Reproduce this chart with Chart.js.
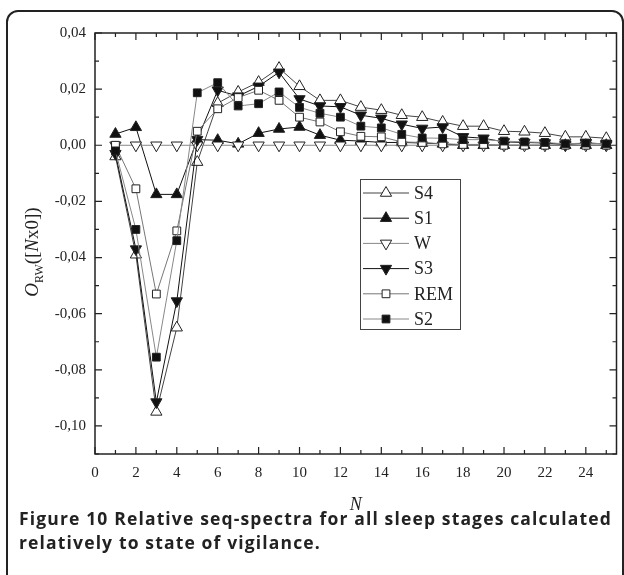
<!DOCTYPE html>
<html>
<head>
<meta charset="utf-8">
<script src="https://cdn.jsdelivr.net/npm/chart.js@4.4.1/dist/chart.umd.min.js"></script>
<style>
  html, body { margin: 0; padding: 0; background: #fff; }
  #wrap { position: relative; width: 624px; height: 575px; overflow: hidden; }
  #frame { position: absolute; left: 6px; top: 10px; width: 614px; height: 620px; border: 2px solid #222; border-radius: 12px; }
  #cv { position: absolute; left: 0; top: 0; }
  #caption { position: absolute; left: 19px; top: 506px; width: 600px; font-family: "Open Sans", sans-serif; font-weight: bold; font-size: 17.5px; line-height: 24px; color: #222; }
  #caption span { white-space: nowrap; }
</style>
</head>
<body>
<div id="wrap">
  <div id="frame"></div>
  <canvas id="cv" width="624" height="520"></canvas>
  <div id="caption">
    <div><span id="line1">Figure 10 Relative seq-spectra for all sleep stages calculated</span></div>
    <div><span>relatively to state of vigilance.</span></div>
  </div>
</div>
<script>
// N values and the six series
const nValues = [1, 2, 3, 4, 5, 6, 7, 8, 9, 10, 11, 12, 13, 14, 15, 16, 17, 18, 19, 20, 21, 22, 23, 24, 25];
const s4  = [-0.004, -0.039, -0.095, -0.065, -0.006, 0.015, 0.019, 0.0225, 0.0275, 0.021, 0.016, 0.016, 0.0136, 0.0125, 0.0107, 0.010, 0.0083, 0.0068, 0.0068, 0.005, 0.0048, 0.0043, 0.003, 0.003, 0.0025];
const s1  = [0.004, 0.0064, -0.0175, -0.0175, 0.002, 0.0018, 0.0005, 0.0043, 0.0058, 0.0065, 0.0036, 0.0018, 0.0015, 0.001, 0.001, 0.0008, 0.0005, 0, 0, 0, 0, 0, 0, 0, 0];
const w   = [0, 0, 0, 0, 0, 0, 0, 0, 0, 0, 0, 0, 0, 0, 0, 0, 0, 0, 0, 0, 0, 0, 0, 0, 0];
const s3  = [-0.003, -0.037, -0.0915, -0.0555, 0.002, 0.0196, 0.0175, 0.021, 0.026, 0.0165, 0.014, 0.0137, 0.0107, 0.0096, 0.0075, 0.006, 0.0065, 0.003, 0.0025, 0.0012, 0.001, 0.0008, 0.0003, 0.0008, 0.0005];
const rem = [0.0, -0.0155, -0.053, -0.0305, 0.005, 0.013, 0.017, 0.0196, 0.016, 0.010, 0.0083, 0.0048, 0.0032, 0.003, 0.0012, 0.001, 0.0005, 0.0003, 0.0003, 0, 0, 0, 0, 0, 0];
const s2  = [-0.002, -0.030, -0.0755, -0.034, 0.0187, 0.0223, 0.014, 0.0148, 0.019, 0.0135, 0.0114, 0.010, 0.0068, 0.0062, 0.0039, 0.0026, 0.0025, 0.002, 0.002, 0.0015, 0.0012, 0.001, 0.0005, 0.0008, 0.0005];

const seriesNames = ["S4", "S1", "W", "S3", "REM", "S2"];
const seriesData = [s4, s1, w, s3, rem, s2];

const xTicks = [0, 2, 4, 6, 8, 10, 12, 14, 16, 18, 20, 22, 24];
const yTicks = [-0.10, -0.08, -0.06, -0.04, -0.02, 0.00, 0.02, 0.04];

// marker look per series
const markers = [
  { style: "triangle", rot: 0,   radius: 6.5, fill: "#fff", line: "#444" },
  { style: "triangle", rot: 0,   radius: 6.5, fill: "#111", line: "#111" },
  { style: "triangle", rot: 180, radius: 6.5, fill: "#fff", line: "#888" },
  { style: "triangle", rot: 180, radius: 6.5, fill: "#111", line: "#111" },
  { style: "rect",     rot: 0,   radius: 5.5, fill: "#fff", line: "#777" },
  { style: "rect",     rot: 0,   radius: 5.5, fill: "#111", line: "#888" }
];

const SERIF = "'Liberation Serif', 'DejaVu Serif', serif";

// spread the caption letters so the first line spans the box, like the printed one
(function fitCaption() {
  const cap = document.getElementById("caption");
  const line1 = document.getElementById("line1");
  const w1 = line1.getBoundingClientRect().width;
  const n = line1.textContent.length;
  const ls = Math.max(0, (593 - w1) / n);
  cap.style.letterSpacing = ls.toFixed(3) + "px";
})();

function drawMarker(ctx, m, x, y) {
  ctx.save();
  ctx.fillStyle = m.fill;
  ctx.strokeStyle = "#222";
  ctx.lineWidth = 1;
  if (Chart.helpers && Chart.helpers.drawPoint) {
    Chart.helpers.drawPoint(ctx, { pointStyle: m.style, rotation: m.rot, radius: m.radius, borderWidth: 1 }, x, y);
  } else {
    ctx.beginPath();
    if (m.style === "rect") {
      const h = m.radius * Math.SQRT1_2;
      ctx.rect(x - h, y - h, 2 * h, 2 * h);
    } else {
      const d = m.rot ? -1 : 1;
      ctx.moveTo(x, y - d * m.radius);
      ctx.lineTo(x + m.radius * 0.866, y + d * m.radius * 0.5);
      ctx.lineTo(x - m.radius * 0.866, y + d * m.radius * 0.5);
      ctx.closePath();
    }
    ctx.fill();
    ctx.stroke();
  }
  ctx.restore();
}

// frame, inward ticks, legend box and y title
const decor = {
  id: "decor",
  afterDraw(chart) {
    const ctx = chart.ctx;
    const a = chart.chartArea;
    const xs = chart.scales.x, ys = chart.scales.y;
    ctx.save();
    ctx.strokeStyle = "#222";
    ctx.lineWidth = 1.5;
    ctx.strokeRect(a.left, a.top, a.right - a.left, a.bottom - a.top);

    ctx.lineWidth = 1.2;
    ctx.beginPath();
    for (let v = 0; v <= 25; v++) {
      const px = xs.getPixelForValue(v);
      const len = v % 2 === 0 ? 7 : 4;
      ctx.moveTo(px, a.bottom); ctx.lineTo(px, a.bottom - len);
      ctx.moveTo(px, a.top); ctx.lineTo(px, a.top + len);
    }
    for (let k = -11; k <= 4; k++) {
      const py = ys.getPixelForValue(k / 100);
      const len = k % 2 === 0 ? 7 : 4;
      ctx.moveTo(a.left, py); ctx.lineTo(a.left + len, py);
      ctx.moveTo(a.right, py); ctx.lineTo(a.right - len, py);
    }
    ctx.stroke();

    // legend
    const lx = 360, ly = 179, lw = 100, lh = 150;
    ctx.fillStyle = "#fff";
    ctx.fillRect(lx, ly, lw, lh);
    ctx.strokeStyle = "#444";
    ctx.lineWidth = 1;
    ctx.strokeRect(lx + 0.5, ly + 0.5, lw, lh);
    ctx.font = "18px " + SERIF;
    ctx.textBaseline = "middle";
    ctx.textAlign = "left";
    seriesNames.forEach((name, i) => {
      const y = ly + 14 + i * 25.2;
      const m = markers[i];
      ctx.strokeStyle = m.line;
      ctx.lineWidth = 1;
      ctx.beginPath();
      ctx.moveTo(lx + 3, y); ctx.lineTo(lx + 49, y);
      ctx.stroke();
      drawMarker(ctx, m, lx + 26, y);
      ctx.fillStyle = "#222";
      ctx.fillText(name, lx + 54, y + 1);
    });

    // y axis title: O_RW([Nx0])
    const parts = [
      { t: "O", f: "italic 19px " + SERIF, dy: 0 },
      { t: "RW", f: "12px " + SERIF, dy: 5 },
      { t: "([", f: "19px " + SERIF, dy: 0 },
      { t: "N", f: "italic 19px " + SERIF, dy: 0 },
      { t: "x0])", f: "19px " + SERIF, dy: 0 }
    ];
    let total = 0;
    parts.forEach(p => { ctx.font = p.f; p.w = ctx.measureText(p.t).width; total += p.w; });
    ctx.translate(38, 252);
    ctx.rotate(-Math.PI / 2);
    ctx.textBaseline = "alphabetic";
    ctx.fillStyle = "#222";
    let cx = -total / 2;
    parts.forEach(p => {
      ctx.font = p.f;
      ctx.fillText(p.t, cx, p.dy);
      cx += p.w;
    });
    ctx.restore();
  }
};

const datasets = seriesNames.map((name, i) => ({
  label: name,
  data: nValues.map((n, j) => ({ x: n, y: seriesData[i][j] })),
  borderColor: markers[i].line,
  borderWidth: 1,
  pointStyle: markers[i].style,
  pointRotation: markers[i].rot,
  pointRadius: markers[i].radius,
  pointBackgroundColor: markers[i].fill,
  pointBorderColor: "#222",
  pointBorderWidth: 1,
  tension: 0,
  order: seriesNames.length - i
}));

new Chart(document.getElementById("cv"), {
  type: "line",
  data: { datasets },
  options: {
    responsive: false,
    animation: false,
    events: [],
    layout: { padding: { top: 33, right: 7, left: 0, bottom: 0 } },
    plugins: { legend: { display: false }, tooltip: { enabled: false } },
    scales: {
      x: {
        type: "linear",
        min: 0,
        max: 25.5,
        afterBuildTicks: s => { s.ticks = xTicks.map(v => ({ value: v })); },
        afterFit: s => { s.height = 66; },
        grid: { display: false, drawTicks: false },
        border: { display: false },
        ticks: { color: "#222", padding: 10, maxRotation: 0, autoSkip: false, font: { family: SERIF, size: 15 } },
        title: { display: true, text: "N", color: "#222", font: { family: SERIF, size: 18, style: "italic" }, padding: { top: 4, bottom: 4 } }
      },
      y: {
        min: -0.11,
        max: 0.04,
        afterBuildTicks: s => { s.ticks = yTicks.map(v => ({ value: v })); },
        afterFit: s => { s.width = 95; },
        grid: { display: false, drawTicks: false },
        border: { display: false },
        ticks: {
          color: "#222",
          padding: 9,
          autoSkip: false,
          font: { family: SERIF, size: 15 },
          callback: v => v.toFixed(2).replace(".", ",")
        }
      }
    }
  },
  plugins: [decor]
});
</script>
</body>
</html>
